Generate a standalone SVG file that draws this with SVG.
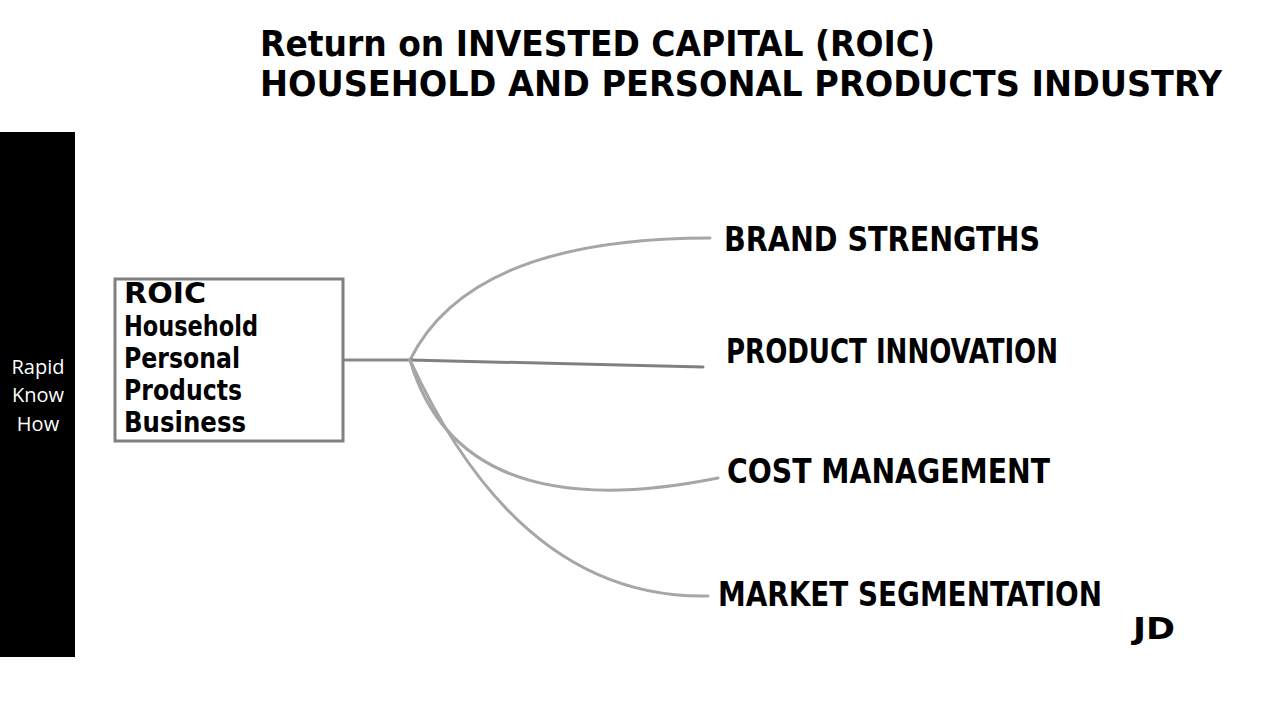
<svg xmlns="http://www.w3.org/2000/svg" width="1280" height="720" viewBox="0 0 1280 720">
<style>
.hand{font-family:"Liberation Sans Narrow","DejaVu Sans Condensed","Liberation Sans",sans-serif;font-weight:bold;fill:#000}
.conn{fill:none;stroke:#a6a6a6;stroke-width:3;stroke-linecap:round}
.side{font-family:"Open Sans","Liberation Sans",sans-serif;font-size:20px;fill:#fff;text-anchor:middle}
</style>
<rect width="1280" height="720" fill="#fff"/>
<g id="title">
<text class="hand" x="260" y="56" font-size="35" textLength="675" lengthAdjust="spacingAndGlyphs">Return on INVESTED CAPITAL (ROIC)</text>
<text class="hand" x="260" y="96" font-size="35" textLength="962" lengthAdjust="spacingAndGlyphs">HOUSEHOLD AND PERSONAL PRODUCTS INDUSTRY</text>
</g>
<g id="sidebar">
<rect x="0" y="132" width="75" height="525" fill="#000"/>
<text class="side" x="38" y="374">Rapid</text>
<text class="side" x="38" y="402">Know</text>
<text class="side" x="38" y="431">How</text>
</g>
<g id="connectors">
<path class="conn" d="M343,360 L410,360" style="stroke:#8a8a8a"/>
<path class="conn" d="M410,360 Q470,238 710,238"/>
<path class="conn" d="M410,360 L703,367" style="stroke:#808080"/>
<path class="conn" d="M410,360 Q460,530 718,478"/>
<path class="conn" d="M410,360 Q520,600 708,596"/>
</g>
<g id="root">
<rect x="115" y="279" width="228" height="162" fill="#fff" stroke="#808080" stroke-width="3"/>
<text class="hand" x="124" y="303" font-size="28" textLength="82" lengthAdjust="spacingAndGlyphs">ROIC</text>
<text class="hand" x="124" y="336" font-size="28" textLength="134" lengthAdjust="spacingAndGlyphs">Household</text>
<text class="hand" x="124" y="368" font-size="28" textLength="116" lengthAdjust="spacingAndGlyphs">Personal</text>
<text class="hand" x="124" y="400" font-size="28" textLength="118" lengthAdjust="spacingAndGlyphs">Products</text>
<text class="hand" x="124" y="432" font-size="28" textLength="122" lengthAdjust="spacingAndGlyphs">Business</text>
</g>
<g id="brand"><text class="hand" x="724" y="251" font-size="34" textLength="316" lengthAdjust="spacingAndGlyphs">BRAND STRENGTHS</text></g>
<g id="innovation"><text class="hand" x="726" y="363" font-size="34" textLength="332" lengthAdjust="spacingAndGlyphs">PRODUCT INNOVATION</text></g>
<g id="cost"><text class="hand" x="727" y="483" font-size="34" textLength="323" lengthAdjust="spacingAndGlyphs">COST MANAGEMENT</text></g>
<g id="market"><text class="hand" x="718" y="606" font-size="34" textLength="384" lengthAdjust="spacingAndGlyphs">MARKET SEGMENTATION</text></g>
<g id="jd"><text class="hand" x="1133" y="639" font-size="30" textLength="42" lengthAdjust="spacingAndGlyphs">JD</text></g>
</svg>
